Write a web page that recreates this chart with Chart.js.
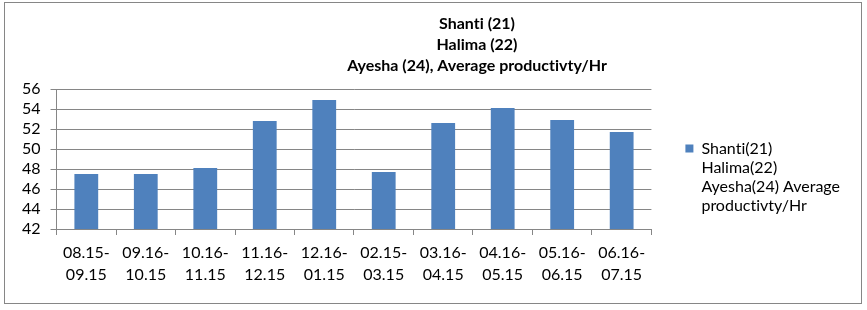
<!DOCTYPE html>
<html>
<head>
    <title>Average productivity chart</title>
    <script src="https://cdn.jsdelivr.net/npm/chart.js@4.4.1/dist/chart.umd.min.js"></script>
    <style>
        body {
            margin: 0;
            background: #fff;
        }

        .chart {
            position: relative;
            width: 867px;
            height: 310px;
        }
    </style>
</head>
<body>
<div class="chart">
    <canvas id="productivity-chart"></canvas>
</div>

<script>
    // periods, two lines each
    const periods = [
        ['08.15-', '09.15'], ['09.16-', '10.15'], ['10.16-', '11.15'], ['11.16-', '12.15'], ['12.16-', '01.15'],
        ['02.15-', '03.15'], ['03.16-', '04.15'], ['04.16-', '05.15'], ['05.16-', '06.15'], ['06.16-', '07.15']
    ];
    const productivity = [47.5, 47.5, 48.1, 52.8, 54.9, 47.7, 52.6, 54.1, 52.9, 51.7];
    const titleLines = ['Shanti (21)', 'Halima (22)', 'Ayesha (24), Average productivty/Hr'];
    const legendLines = ['Shanti(21)', 'Halima(22)', 'Ayesha(24) Average', 'productivty/Hr'];
    const yMin = 42;
    const yMax = 56;
    const yStep = 2;

    const fontFamily = 'Lato, "Open Sans", sans-serif';
    const lineGray = '#868686';

    // white background + thin frame round the whole chart
    const framePlugin = {
        id: 'frame',
        beforeDraw(chart) {
            const c = chart.ctx;
            c.textRendering = 'optimizeSpeed'; // no "ti" ligatures
            c.save();
            c.fillStyle = '#fff';
            c.fillRect(0, 0, chart.width, chart.height);
            c.strokeStyle = lineGray;
            c.lineWidth = 1;
            c.strokeRect(4.5, 2.5, 857, 301);
            c.restore();
        }
    };

    // three-line title, centred a bit right of the middle like the original
    const titlePlugin = {
        id: 'stackedTitle',
        afterDraw(chart) {
            const c = chart.ctx;
            c.save();
            c.font = 'bold 16px ' + fontFamily;
            c.fillStyle = '#000';
            c.textAlign = 'center';
            c.textBaseline = 'middle';
            titleLines.forEach((line, i) => {
                c.fillText(line, 477, 24 + i * 20.7);
            });
            c.restore();
        }
    };

    var ctx = document.getElementById('productivity-chart').getContext('2d');
    var chart = new Chart(ctx, {
        type: 'bar',
        data: {
            labels: periods,
            datasets: [{
                label: legendLines.join(' '),
                data: productivity,
                backgroundColor: '#4F81BD',
                borderWidth: 0,
                barPercentage: 0.4,
                categoryPercentage: 1
            }]
        },
        options: {
            responsive: true,
            maintainAspectRatio: false,
            animation: false,
            layout: {
                padding: {top: 89, left: 12, right: 17, bottom: 17}
            },
            plugins: {
                title: {display: false},
                tooltip: {enabled: false},
                legend: {
                    position: 'right',
                    align: 'start',
                    // empty title only used as a spacer above the item
                    title: {
                        display: true,
                        text: ' ',
                        font: {size: 12, lineHeight: 1.2},
                        padding: {top: 0, bottom: 3}
                    },
                    labels: {
                        boxWidth: 8,
                        boxHeight: 8,
                        padding: 34,
                        color: '#000',
                        font: {family: fontFamily, size: 16, lineHeight: 1.2},
                        generateLabels: function (chart) {
                            const items = Chart.defaults.plugins.legend.labels.generateLabels(chart);
                            items.forEach(item => {
                                item.text = legendLines;
                                item.lineWidth = 0;
                            });
                            return items;
                        }
                    }
                }
            },
            scales: {
                x: {
                    offset: true,
                    grid: {
                        offset: true,
                        drawOnChartArea: false,
                        drawTicks: true,
                        tickLength: 6,
                        color: lineGray
                    },
                    border: {color: lineGray},
                    ticks: {
                        autoSkip: false,
                        maxRotation: 0,
                        padding: 7,
                        color: '#000',
                        font: {family: fontFamily, size: 16, lineHeight: 1.375}
                    }
                },
                y: {
                    min: yMin,
                    max: yMax,
                    grid: {
                        color: lineGray,
                        tickLength: 6
                    },
                    border: {color: lineGray},
                    ticks: {
                        stepSize: yStep,
                        autoSkip: false,
                        padding: 10,
                        color: '#000',
                        font: {family: fontFamily, size: 16}
                    }
                }
            }
        },
        plugins: [framePlugin, titlePlugin]
    });
</script>
</body>
</html>
